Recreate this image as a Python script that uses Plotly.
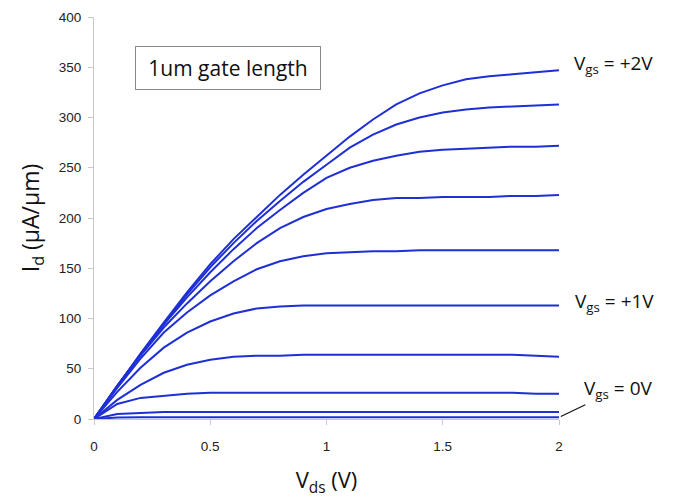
import plotly.graph_objects as go

vds = [0.0, 0.1, 0.2, 0.3, 0.4, 0.5, 0.6, 0.7, 0.8, 0.9, 1.0,
       1.1, 1.2, 1.3, 1.4, 1.5, 1.6, 1.7, 1.8, 1.9, 2.0]

id_vgs_2_0 = [0, 33, 65, 96, 126, 154, 179, 201, 223, 243, 262, 281, 298, 313, 324, 332, 338, 341, 343, 345, 347]
id_vgs_1_8 = [0, 33, 64, 95, 124, 151, 175, 197, 217, 236, 253, 270, 283, 293, 300, 305, 308, 310, 311, 312, 313]
id_vgs_1_6 = [0, 33, 64, 94, 121, 146, 169, 190, 208, 225, 240, 250, 257, 262, 266, 268, 269, 270, 271, 271, 272]
id_vgs_1_4 = [0, 33, 63, 91, 115, 137, 157, 175, 190, 201, 209, 214, 218, 220, 220, 221, 221, 221, 222, 222, 223]
id_vgs_1_2 = [0, 31, 60, 86, 106, 123, 137, 149, 157, 162, 165, 166, 167, 167, 168, 168, 168, 168, 168, 168, 168]
id_vgs_1_0 = [0, 27, 51, 71, 86, 97, 105, 110, 112, 113, 113, 113, 113, 113, 113, 113, 113, 113, 113, 113, 113]
id_vgs_0_8 = [0, 19, 34, 46, 54, 59, 62, 63, 63, 64, 64, 64, 64, 64, 64, 64, 64, 64, 64, 63, 62]
id_vgs_0_6 = [0, 15, 21, 23, 25, 26, 26, 26, 26, 26, 26, 26, 26, 26, 26, 26, 26, 26, 26, 25, 25]
id_vgs_0_4 = [0, 5, 6, 7, 7, 7, 7, 7, 7, 7, 7, 7, 7, 7, 7, 7, 7, 7, 7, 7, 7]
id_vgs_0_2 = [0, 1.5, 1.7, 1.7, 1.7, 1.7, 1.7, 1.7, 1.7, 1.7, 1.7, 1.7, 1.7, 1.7, 1.7, 1.7, 1.7, 1.7, 1.7, 1.7, 1.7]

curves = [id_vgs_2_0, id_vgs_1_8, id_vgs_1_6, id_vgs_1_4, id_vgs_1_2,
          id_vgs_1_0, id_vgs_0_8, id_vgs_0_6, id_vgs_0_4, id_vgs_0_2]

x_ticks = [0, 0.5, 1, 1.5, 2]
x_tick_text = ["0", "0.5", "1", "1.5", "2"]
y_ticks = [0, 50, 100, 150, 200, 250, 300, 350, 400]

LINE = "#1f2fd6"
LABEL_FONT = dict(family="Open Sans", size=19, color="#111111")

fig = go.Figure()
for c in curves:
    fig.add_trace(go.Scatter(x=vds, y=c, mode="lines",
                             line=dict(color=LINE, width=2),
                             showlegend=False, hoverinfo="skip"))

fig.update_layout(
    width=674, height=501,
    margin=dict(l=94, r=115, t=17, b=82, autoexpand=False),
    paper_bgcolor="white", plot_bgcolor="white",
    font=dict(family="Liberation Sans, Arial", size=13.5, color="#222222"),
    xaxis=dict(range=[0, 2], tickvals=x_ticks, ticktext=x_tick_text,
               automargin=False,
               showgrid=False, zeroline=False, showline=True,
               linecolor="#c8c8c8", linewidth=1, ticks="outside",
               ticklen=5, tickcolor="#c8c8c8", ticklabelstandoff=10,
               title=dict(text="V<sub>ds</sub> (V)",
                          font=dict(family="Open Sans", size=22, color="#111111"),
                          standoff=19)),
    yaxis=dict(range=[0, 400], tickvals=y_ticks,
               automargin=False,
               showgrid=False, zeroline=False, showline=True,
               linecolor="#c8c8c8", linewidth=1, ticks="outside",
               ticklen=5, tickcolor="#c8c8c8", ticklabelstandoff=4,
               title=dict(text="I<sub>d</sub> (µA/µm)",
                          font=dict(family="Open Sans", size=23, color="#111111"),
                          standoff=12)),
)

fig.add_annotation(x=0.177, y=349, xref="x", yref="y", xanchor="left", yanchor="middle",
                   text="1um gate length", showarrow=False,
                   font=dict(family="Open Sans", size=21, color="#111111"),
                   width=182, height=40, bordercolor="#888888", borderwidth=1,
                   bgcolor="white")

fig.add_annotation(x=1.028, y=353, xref="paper", yref="y", xanchor="left", yanchor="middle",
                   text="V<sub>gs</sub> = +2V", showarrow=False, font=LABEL_FONT)
fig.add_annotation(x=1.031, y=116, xref="paper", yref="y", xanchor="left", yanchor="middle",
                   text="V<sub>gs</sub> = +1V", showarrow=False, font=LABEL_FONT)
fig.add_annotation(x=2.0, y=1.7, xref="x", yref="y",
                   text="V<sub>gs</sub> = 0V", showarrow=True, arrowhead=0,
                   arrowwidth=1.2, arrowcolor="#111111", standoff=2,
                   ax=59, ay=-28, font=LABEL_FONT)

fig.write_html("out.html")
